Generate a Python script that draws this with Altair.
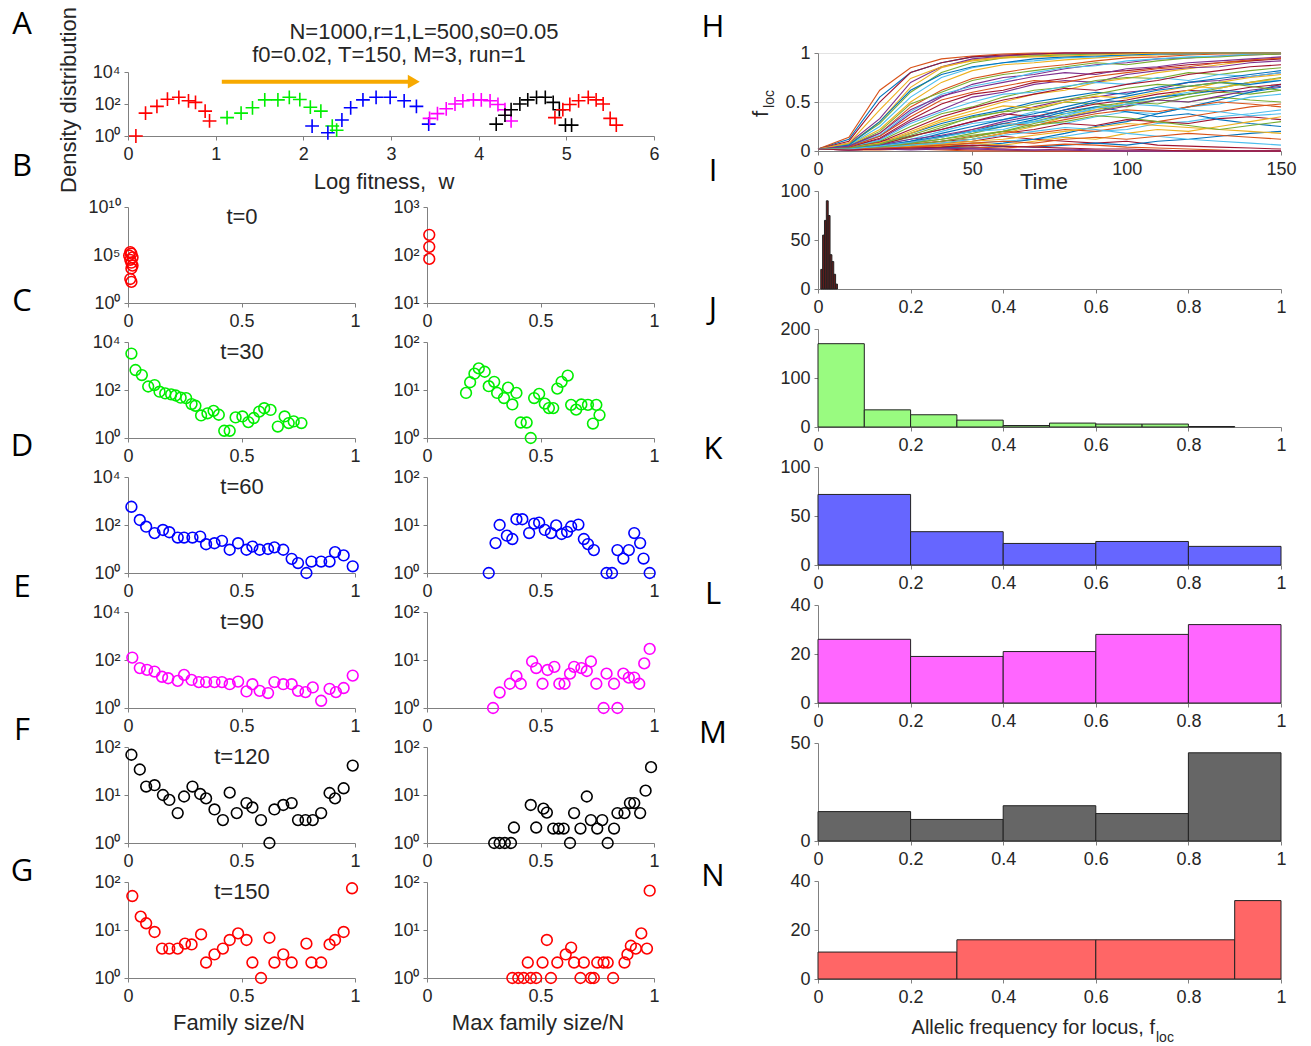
import altair as alt
import pandas as pd

FONT = "Liberation Sans"
LFONT = "Open Sans"
AXC = "#808080"
TXT = "#262626"
SUP = str.maketrans("0123456789", "⁰¹²³⁴⁵⁶⁷⁸⁹")

# ---------------- Panel A: density vs log fitness ----------------
a_w_t0 = [0.09, 0.2, 0.33, 0.45, 0.58, 0.69, 0.77, 0.88, 0.93]
a_d_t0 = [1, 27, 71, 200, 263, 158, 126, 36, 8.7]
a_w_t30 = [1.13, 1.29, 1.42, 1.56, 1.71, 1.84, 1.96, 2.08, 2.2, 2.33, 2.38]
a_d_t30 = [14, 27, 58, 182, 182, 263, 190, 63, 36, 4.2, 2.3]
a_w_t60 = [2.1, 2.28, 2.44, 2.54, 2.68, 2.83, 2.99, 3.15, 3.29, 3.43]
a_d_t60 = [4.2, 1.6, 10, 58, 182, 263, 263, 158, 71, 5.5]
a_w_t90 = [3.44, 3.53, 3.63, 3.73, 3.82, 3.94, 4.03, 4.13, 4.22, 4.3, 4.37]
a_d_t90 = [12.6, 25, 50, 100, 158, 182, 182, 158, 93, 44, 8.7]
a_w_t120 = [4.2, 4.3, 4.37, 4.47, 4.56, 4.66, 4.76, 4.85, 4.92, 4.99, 5.06]
a_d_t120 = [5.5, 20, 44, 100, 182, 263, 263, 126, 44, 4.8, 4.8]
a_w_t150 = [4.87, 4.96, 5.04, 5.14, 5.25, 5.34, 5.42, 5.5, 5.57]
a_d_t150 = [14, 44, 93, 158, 263, 182, 100, 12.6, 4.8]
arrow_w = [1.07, 3.2]
arrow_tip_w = [3.26]
arrow_d = [2500]

# ---------------- Panels B-G: family size distributions ----------------
b_fam_x = [0.01, 0.015, 0.005, 0.02, 0.01, 0.015, 0.02, 0.015, 0.01, 0.015]
b_fam_y = [200000, 141000, 89000, 56000, 31600, 15800, 7900, 4000, 316, 158]
b_max_x = [0.01, 0.01, 0.01]
b_max_y = [263, 148, 83]

c_fam_x = [0.015, 0.033, 0.061, 0.089, 0.117, 0.139, 0.164, 0.19, 0.21, 0.232, 0.256, 0.28, 0.297,
           0.322, 0.35, 0.377, 0.4, 0.424, 0.448, 0.474, 0.504, 0.53, 0.554, 0.578, 0.6, 0.628,
           0.66, 0.69, 0.708, 0.73, 0.764]
c_fam_y = [3300, 680, 420, 140, 160, 85, 72, 66, 59, 48, 46, 26, 22, 8.7, 10.7, 13.5, 9.3, 2, 2,
           7.2, 7.9, 4.6, 6.8, 12.6, 17.4, 14.8, 3, 7.9, 4.2, 4.9, 4.2]
c_max_x = [0.172, 0.19, 0.209, 0.228, 0.254, 0.272, 0.296, 0.309, 0.339, 0.357, 0.376, 0.394, 0.413,
           0.439, 0.457, 0.472, 0.494, 0.519, 0.537, 0.556, 0.574, 0.593, 0.62, 0.635, 0.657, 0.68,
           0.709, 0.731, 0.746, 0.76]
c_max_y = [8.7, 14.5, 21.9, 28.2, 24, 12, 14.8, 8.7, 6.8, 11.2, 5, 8.7, 2.1, 2.1, 1, 6.8, 8.3, 5.2,
           4.2, 4.2, 10.7, 14.8, 20, 4.9, 3.9, 5, 4.9, 2, 4.9, 3]

d_fam_x = [0.015, 0.052, 0.08, 0.117, 0.154, 0.182, 0.219, 0.247, 0.284, 0.318, 0.344, 0.381, 0.414,
           0.448, 0.485, 0.522, 0.548, 0.58, 0.617, 0.645, 0.684, 0.721, 0.749, 0.786, 0.808, 0.851,
           0.888, 0.912, 0.95, 0.99]
d_fam_y = [575, 162, 85, 46, 62, 50, 30, 30, 30, 33, 15.8, 17.4, 21.9, 9.3, 17.4, 9.3, 12.6, 9.3, 10,
           11.7, 9.3, 3.9, 2.6, 1, 3, 3, 3, 7.4, 5.4, 1.9]
d_max_x = [0.272, 0.302, 0.32, 0.352, 0.376, 0.394, 0.42, 0.45, 0.472, 0.494, 0.519, 0.546, 0.569,
           0.593, 0.617, 0.635, 0.667, 0.691, 0.709, 0.735, 0.791, 0.815, 0.839, 0.865, 0.889, 0.913,
           0.939, 0.954, 0.981]
d_max_y = [1, 4.2, 10, 6, 5.1, 13.2, 13.2, 6.8, 10.7, 11.2, 7.9, 6.8, 9.8, 6.5, 7.2, 9.3, 10.2, 5.1,
           4, 3, 1, 1, 3, 2, 3, 6.8, 4.2, 2, 1]

e_fam_x = [0.019, 0.052, 0.084, 0.117, 0.15, 0.177, 0.219, 0.247, 0.28, 0.312, 0.344, 0.381, 0.414,
           0.448, 0.485, 0.522, 0.548, 0.58, 0.617, 0.645, 0.684, 0.721, 0.749, 0.782, 0.814, 0.851,
           0.888, 0.916, 0.95, 0.99]
e_fam_y = [126, 46, 39, 33, 20, 17.4, 13.5, 24, 14.8, 12, 12, 12, 12, 9.8, 12.6, 4.9, 9.8, 5.2, 4.2,
           12, 9.8, 9.8, 5.2, 4.6, 7.2, 2, 6.3, 4.6, 6.8, 22.4]
e_max_x = [0.291, 0.32, 0.365, 0.394, 0.413, 0.463, 0.481, 0.509, 0.531, 0.561, 0.583, 0.606, 0.63,
           0.648, 0.68, 0.704, 0.722, 0.746, 0.778, 0.791, 0.824, 0.839, 0.865, 0.889, 0.913, 0.935,
           0.957, 0.981]
e_max_y = [1, 2.1, 3.2, 4.6, 3.2, 9.3, 6.8, 3.2, 6.2, 7.2, 3.2, 3.2, 5.2, 7.2, 6.8, 5.9, 9.3, 3.2, 1,
           5.2, 3.2, 1, 5.2, 4.3, 4.3, 3.2, 8.5, 17]

f_fam_x = [0.015, 0.052, 0.08, 0.117, 0.154, 0.182, 0.219, 0.247, 0.284, 0.318, 0.344, 0.381, 0.418,
           0.448, 0.479, 0.522, 0.548, 0.586, 0.623, 0.645, 0.684, 0.721, 0.749, 0.782, 0.814, 0.851,
           0.888, 0.912, 0.95, 0.99]
f_fam_y = [69, 34, 15, 16, 10, 7.9, 4.2, 9.3, 15, 10.5, 8.5, 5, 3, 11.2, 4.2, 6.8, 5.5, 3, 1, 5, 6.2,
           6.8, 3, 3, 3, 4.2, 11, 8.5, 13.8, 41]
f_max_x = [0.296, 0.32, 0.343, 0.37, 0.383, 0.457, 0.481, 0.513, 0.528, 0.556, 0.58, 0.602, 0.63,
           0.648, 0.676, 0.704, 0.722, 0.75, 0.772, 0.796, 0.824, 0.839, 0.87, 0.894, 0.913, 0.939,
           0.963, 0.987]
f_max_y = [1, 1, 1, 1, 2.1, 6.2, 2.1, 5.2, 4.3, 2, 2, 2, 1, 4.2, 2, 9.3, 3, 2, 3, 1, 2, 4.2, 4.2, 6.8,
           6.8, 4.2, 12.3, 38]

g_fam_x = [0.019, 0.056, 0.08, 0.117, 0.15, 0.182, 0.219, 0.251, 0.28, 0.322, 0.344, 0.381, 0.418,
           0.448, 0.485, 0.522, 0.548, 0.586, 0.623, 0.645, 0.684, 0.721, 0.786, 0.808, 0.851, 0.888,
           0.912, 0.95, 0.987]
g_fam_y = [51, 19, 13.8, 9.1, 4.1, 4.1, 4.1, 5.2, 5, 8.1, 2.1, 3.1, 4.1, 6.2, 8.5, 6.2, 2.1, 1, 6.9,
           2.1, 3.1, 2.1, 5.2, 2.1, 2.1, 5, 6.2, 9.1, 74]
g_max_x = [0.376, 0.402, 0.426, 0.444, 0.457, 0.481, 0.509, 0.528, 0.546, 0.574, 0.611, 0.635, 0.648,
           0.676, 0.691, 0.722, 0.735, 0.75, 0.778, 0.796, 0.82, 0.87, 0.883, 0.898, 0.92, 0.944,
           0.969, 0.981]
g_max_y = [1, 1, 1, 2.1, 1, 1, 2.1, 6.2, 1, 2.1, 3.1, 4.3, 2.1, 1, 2.1, 1, 1, 2.1, 2.1, 2.1, 1, 2.1,
           3.1, 4.7, 4.1, 8.5, 4.1, 66]

# ---------------- Panel H: allele frequency trajectories ----------------
h_time = [0, 10, 20, 30, 40, 50, 60, 70, 80, 90, 100, 110, 120, 130, 140, 150]
h_traj = [
    [0.02, 0.12, 0.55, 0.80, 0.90, 0.96, 0.97, 0.98, 0.99, 0.99, 1, 1, 1, 1, 1, 1],
    [0.02, 0.05, 0.18, 0.45, 0.62, 0.74, 0.80, 0.85, 0.88, 0.92, 0.95, 0.96, 0.98, 0.99, 0.99, 1],
    [0.02, 0.03, 0.08, 0.20, 0.32, 0.41, 0.50, 0.58, 0.62, 0.70, 0.74, 0.80, 0.84, 0.88, 0.92, 0.95],
    [0.02, 0.04, 0.10, 0.15, 0.22, 0.30, 0.36, 0.45, 0.52, 0.55, 0.60, 0.63, 0.70, 0.72, 0.76, 0.80],
    [0.02, 0.02, 0.05, 0.08, 0.12, 0.18, 0.25, 0.30, 0.38, 0.45, 0.50, 0.48, 0.55, 0.60, 0.58, 0.62],
    [0.02, 0.03, 0.04, 0.06, 0.05, 0.08, 0.10, 0.12, 0.15, 0.20, 0.22, 0.28, 0.30, 0.35, 0.38, 0.42],
    [0.02, 0.01, 0.02, 0.03, 0.02, 0.01, 0.01, 0.0, 0, 0, 0, 0, 0, 0, 0, 0],
    [0.02, 0.14, 0.62, 0.85, 0.94, 0.97, 0.99, 1, 1, 1, 1, 1, 1, 1, 1, 1],
    [0.02, 0.06, 0.22, 0.50, 0.70, 0.82, 0.88, 0.90, 0.93, 0.95, 0.97, 0.98, 0.99, 1, 1, 1],
    [0.02, 0.04, 0.12, 0.30, 0.42, 0.55, 0.60, 0.68, 0.72, 0.70, 0.78, 0.82, 0.85, 0.86, 0.90, 0.92],
    [0.02, 0.03, 0.07, 0.14, 0.24, 0.35, 0.40, 0.42, 0.50, 0.48, 0.45, 0.52, 0.50, 0.55, 0.52, 0.50],
    [0.02, 0.02, 0.04, 0.10, 0.14, 0.20, 0.22, 0.30, 0.28, 0.35, 0.40, 0.38, 0.45, 0.48, 0.55, 0.58],
    [0.02, 0.02, 0.03, 0.05, 0.08, 0.10, 0.15, 0.12, 0.10, 0.08, 0.10, 0.06, 0.05, 0.04, 0.03, 0.02],
    [0.02, 0.03, 0.02, 0.04, 0.06, 0.05, 0.08, 0.12, 0.18, 0.25, 0.30, 0.38, 0.45, 0.52, 0.60, 0.68],
    [0.02, 0.07, 0.30, 0.65, 0.85, 0.93, 0.96, 0.98, 0.99, 1, 1, 1, 1, 1, 1, 1],
    [0.02, 0.05, 0.15, 0.38, 0.55, 0.68, 0.75, 0.78, 0.84, 0.88, 0.90, 0.94, 0.95, 0.97, 0.98, 0.99],
    [0.02, 0.04, 0.10, 0.25, 0.38, 0.45, 0.55, 0.62, 0.65, 0.72, 0.75, 0.74, 0.80, 0.78, 0.82, 0.85],
    [0.02, 0.03, 0.06, 0.12, 0.20, 0.28, 0.32, 0.40, 0.38, 0.42, 0.48, 0.55, 0.60, 0.65, 0.70, 0.72],
    [0.02, 0.02, 0.04, 0.06, 0.10, 0.12, 0.18, 0.22, 0.28, 0.26, 0.32, 0.30, 0.28, 0.33, 0.35, 0.32],
    [0.02, 0.02, 0.03, 0.02, 0.04, 0.03, 0.05, 0.04, 0.06, 0.08, 0.06, 0.10, 0.12, 0.15, 0.18, 0.20],
    [0.02, 0.01, 0.01, 0.02, 0.01, 0.0, 0, 0, 0, 0, 0, 0, 0, 0, 0, 0],
    [0.02, 0.08, 0.33, 0.70, 0.86, 0.94, 0.97, 0.99, 1, 1, 1, 1, 1, 1, 1, 1],
    [0.02, 0.05, 0.20, 0.48, 0.60, 0.72, 0.78, 0.82, 0.86, 0.90, 0.88, 0.92, 0.95, 0.96, 0.98, 0.99],
    [0.02, 0.04, 0.11, 0.28, 0.40, 0.50, 0.58, 0.60, 0.66, 0.70, 0.68, 0.75, 0.72, 0.78, 0.76, 0.80],
    [0.02, 0.03, 0.06, 0.15, 0.22, 0.30, 0.38, 0.35, 0.42, 0.48, 0.52, 0.58, 0.62, 0.60, 0.65, 0.68],
    [0.02, 0.02, 0.05, 0.08, 0.15, 0.20, 0.25, 0.32, 0.40, 0.45, 0.40, 0.35, 0.38, 0.32, 0.28, 0.25],
    [0.02, 0.02, 0.03, 0.04, 0.05, 0.04, 0.03, 0.05, 0.07, 0.06, 0.04, 0.03, 0.02, 0.01, 0, 0],
    [0.02, 0.03, 0.05, 0.04, 0.08, 0.12, 0.18, 0.25, 0.35, 0.42, 0.50, 0.55, 0.62, 0.70, 0.75, 0.78],
    [0.02, 0.07, 0.28, 0.60, 0.80, 0.90, 0.95, 0.97, 0.98, 0.99, 1, 1, 1, 1, 1, 1],
    [0.02, 0.05, 0.16, 0.40, 0.58, 0.66, 0.72, 0.80, 0.85, 0.87, 0.92, 0.94, 0.96, 0.97, 0.99, 1],
    [0.02, 0.03, 0.09, 0.22, 0.35, 0.44, 0.52, 0.58, 0.64, 0.62, 0.68, 0.72, 0.78, 0.82, 0.86, 0.88],
    [0.02, 0.03, 0.05, 0.10, 0.18, 0.25, 0.32, 0.38, 0.45, 0.52, 0.50, 0.55, 0.58, 0.62, 0.60, 0.65],
    [0.02, 0.02, 0.04, 0.07, 0.10, 0.15, 0.20, 0.18, 0.22, 0.20, 0.25, 0.30, 0.35, 0.40, 0.45, 0.48],
    [0.02, 0.02, 0.02, 0.03, 0.05, 0.08, 0.06, 0.10, 0.14, 0.12, 0.18, 0.22, 0.20, 0.25, 0.30, 0.35],
    [0.02, 0.01, 0.02, 0.02, 0.03, 0.02, 0.01, 0.01, 0.02, 0.01, 0, 0, 0, 0, 0, 0],
    [0.02, 0.06, 0.25, 0.55, 0.75, 0.85, 0.90, 0.92, 0.95, 0.96, 0.98, 0.99, 1, 1, 1, 1],
    [0.02, 0.04, 0.13, 0.32, 0.48, 0.58, 0.62, 0.70, 0.74, 0.80, 0.82, 0.85, 0.88, 0.90, 0.92, 0.94],
    [0.02, 0.03, 0.07, 0.18, 0.28, 0.36, 0.42, 0.50, 0.55, 0.60, 0.58, 0.65, 0.70, 0.74, 0.78, 0.82],
    [0.02, 0.03, 0.05, 0.09, 0.14, 0.22, 0.28, 0.26, 0.32, 0.38, 0.42, 0.40, 0.45, 0.50, 0.48, 0.45],
    [0.02, 0.02, 0.03, 0.05, 0.07, 0.10, 0.12, 0.16, 0.20, 0.24, 0.28, 0.26, 0.24, 0.22, 0.20, 0.18],
    [0.02, 0.01, 0.02, 0.01, 0.02, 0.03, 0.02, 0.01, 0.01, 0, 0, 0, 0, 0, 0, 0],
    [0.02, 0.02, 0.04, 0.06, 0.10, 0.14, 0.20, 0.28, 0.35, 0.40, 0.48, 0.52, 0.58, 0.64, 0.70, 0.75],
    [0.02, 0.10, 0.50, 0.80, 0.90, 0.96, 0.98, 0.99, 1, 1, 1, 1, 1, 1, 1, 1],
    [0.02, 0.06, 0.30, 0.62, 0.78, 0.86, 0.90, 0.94, 0.96, 0.97, 0.98, 0.99, 0.99, 1, 1, 1],
    [0.02, 0.04, 0.15, 0.35, 0.52, 0.60, 0.66, 0.72, 0.70, 0.76, 0.80, 0.84, 0.86, 0.90, 0.93, 0.95],
    [0.02, 0.03, 0.08, 0.18, 0.30, 0.38, 0.46, 0.44, 0.50, 0.56, 0.54, 0.60, 0.66, 0.64, 0.70, 0.74],
    [0.02, 0.03, 0.06, 0.12, 0.16, 0.22, 0.30, 0.36, 0.34, 0.40, 0.46, 0.52, 0.50, 0.56, 0.62, 0.66],
    [0.02, 0.02, 0.04, 0.08, 0.12, 0.16, 0.20, 0.26, 0.30, 0.36, 0.34, 0.30, 0.26, 0.22, 0.26, 0.30],
    [0.02, 0.02, 0.03, 0.06, 0.08, 0.12, 0.16, 0.20, 0.24, 0.22, 0.18, 0.15, 0.12, 0.10, 0.08, 0.06],
    [0.02, 0.03, 0.05, 0.10, 0.15, 0.20, 0.28, 0.34, 0.42, 0.50, 0.56, 0.62, 0.66, 0.70, 0.68, 0.72],
    [0.02, 0.02, 0.03, 0.04, 0.06, 0.08, 0.10, 0.08, 0.12, 0.14, 0.12, 0.15, 0.18, 0.16, 0.14, 0.12],
    [0.02, 0.08, 0.42, 0.74, 0.86, 0.92, 0.95, 0.96, 0.97, 0.98, 0.99, 1, 1, 1, 1, 1],
    [0.02, 0.05, 0.18, 0.42, 0.56, 0.64, 0.70, 0.76, 0.80, 0.78, 0.84, 0.86, 0.90, 0.92, 0.94, 0.96],
    [0.02, 0.03, 0.07, 0.16, 0.26, 0.34, 0.40, 0.48, 0.52, 0.58, 0.64, 0.68, 0.66, 0.70, 0.66, 0.62],
    [0.02, 0.02, 0.05, 0.09, 0.14, 0.20, 0.26, 0.30, 0.36, 0.44, 0.48, 0.46, 0.42, 0.40, 0.36, 0.38],
    [0.02, 0.01, 0.02, 0.03, 0.04, 0.06, 0.05, 0.04, 0.03, 0.02, 0.02, 0.01, 0, 0, 0, 0],
]
h_colors = ["#0072BD", "#D95319", "#EDB120", "#7E2F8E", "#77AC30", "#4DBEEE", "#A2142F"]

# ---------------- Panels I-N: histograms of allele frequency ----------------
i_lo = [0.006, 0.010, 0.014, 0.018, 0.022, 0.026, 0.030, 0.034, 0.038]
i_hi = [0.010, 0.014, 0.018, 0.022, 0.026, 0.030, 0.034, 0.038, 0.042]
i_n = [20, 55, 70, 90, 75, 35, 28, 15, 5]
j_lo = [0.0, 0.1, 0.2, 0.3, 0.4, 0.5, 0.6, 0.7, 0.8]
j_hi = [0.1, 0.2, 0.3, 0.4, 0.5, 0.6, 0.7, 0.8, 0.9]
j_n = [170, 35, 25, 14, 3, 8, 6, 6, 1]
k_lo = [0.0, 0.2, 0.4, 0.6, 0.8]
k_hi = [0.2, 0.4, 0.6, 0.8, 1.0]
k_n = [72, 34, 22, 24, 19]
l_n = [26, 19, 21, 28, 32]
m_n = [15, 11, 18, 14, 45]
n_lo = [0.0, 0.3, 0.6, 0.9]
n_hi = [0.3, 0.6, 0.9, 1.0]
n_n = [11, 16, 16, 32]

# ---------------- layout sizes ----------------
A_W, A_H = 526, 64
S_W, S_H = 227, 96
R_W, R_H = 463, 98


def log_axis(exps):
    vals = [10 ** e for e in exps]
    expr = ""
    for e in exps:
        expr += f"datum.value == {10 ** e} ? '10{str(e).translate(SUP)}' : "
    expr += "''"
    return vals, expr


def label(text, x, y, size=22, font=FONT, align="center", angle=0, color=TXT):
    return alt.Chart(pd.DataFrame({"t": [text]})).mark_text(
        align=align, baseline="middle", font=font, fontSize=size, color=color, angle=angle
    ).encode(text="t:N", x=alt.value(x), y=alt.value(y))


def letter(text, x, y):
    return label(text, x, y, size=31, font=LFONT, color="black")


def scatter(xs, ys, color, exps, extra):
    vals, expr = log_axis(exps)
    df = pd.DataFrame({"x": xs, "y": ys})
    pts = alt.Chart(df).mark_point(
        shape="circle", filled=False, color=color, size=115, strokeWidth=1.6, opacity=1
    ).encode(
        x=alt.X("x:Q", scale=alt.Scale(domain=[0, 1], nice=False, zero=False),
                axis=alt.Axis(values=[0, 0.5, 1], format="~g", title=None)),
        y=alt.Y("y:Q", scale=alt.Scale(type="log", domain=[vals[0], vals[-1]], nice=False),
                axis=alt.Axis(values=vals, labelExpr=expr, title=None)),
    )
    return alt.layer(pts, *extra).properties(width=S_W, height=S_H)


def hist(lo, hi, n, color, ymax, yvals, extra):
    df = pd.DataFrame({"a": lo, "b": hi, "c": n})
    bars = alt.Chart(df).mark_bar(color=color, stroke="#222222", strokeWidth=1, opacity=1).encode(
        x=alt.X("a:Q", scale=alt.Scale(domain=[0, 1], nice=False, zero=False),
                axis=alt.Axis(values=[0, 0.2, 0.4, 0.6, 0.8, 1], format="~g", title=None)),
        x2="b:Q",
        y=alt.Y("c:Q", scale=alt.Scale(domain=[0, ymax], nice=False),
                axis=alt.Axis(values=yvals, title=None)),
        y2=alt.datum(0),
    )
    return alt.layer(bars, *extra).properties(width=R_W, height=R_H)


# ---------------- Panel A ----------------
a_series = [(a_w_t0, a_d_t0, "#FF0000"), (a_w_t30, a_d_t30, "#00EE00"), (a_w_t60, a_d_t60, "#0000FF"),
            (a_w_t90, a_d_t90, "#FF00FF"), (a_w_t120, a_d_t120, "#000000"), (a_w_t150, a_d_t150, "#FF0000")]
a_vals, a_expr = log_axis([0, 2, 4])
a_xs = alt.Scale(domain=[0, 6], nice=False, zero=False)
a_ys = alt.Scale(type="log", domain=[1, 10000], nice=False)
a_layers = []
for w, d, col in a_series:
    a_layers.append(
        alt.Chart(pd.DataFrame({"w": w, "d": d})).mark_point(
            shape="M-1,0H1M0,-1V1", filled=False, color=col, size=190, strokeWidth=1.6, opacity=1
        ).encode(
            x=alt.X("w:Q", scale=a_xs,
                    axis=alt.Axis(values=[0, 1, 2, 3, 4, 5, 6], format="~g", title=None)),
            y=alt.Y("d:Q", scale=a_ys, axis=alt.Axis(values=a_vals, labelExpr=a_expr, title=None)),
        )
    )
arrow_line = alt.Chart(pd.DataFrame({"w": [arrow_w[0]], "w2": [arrow_w[1]], "d": arrow_d})).mark_rule(
    color="#F7A900", strokeWidth=4
).encode(x=alt.X("w:Q", scale=a_xs), x2="w2:Q", y=alt.Y("d:Q", scale=a_ys))
arrow_head = alt.Chart(pd.DataFrame({"w": arrow_tip_w, "d": arrow_d})).mark_point(
    shape="triangle-right", filled=True, color="#F7A900", size=190, opacity=1
).encode(x=alt.X("w:Q", scale=a_xs), y=alt.Y("d:Q", scale=a_ys))
pin = alt.Chart(pd.DataFrame({"p": [0]})).mark_rect(opacity=0).encode(
    x=alt.value(-128), x2=alt.value(-124), y=alt.value(-72), y2=alt.value(-68))
panel_a = alt.layer(
    pin, *a_layers, arrow_line, arrow_head,
    label("N=1000,r=1,L=500,s0=0.05", 296, -40),
    label("f0=0.02, T=150, M=3, run=1", 261, -17),
    label("Log fitness,\u00a0 w", 256, 110),
    label("Density distribution", -59, 28, angle=270),
    letter("A", -106, -47),
    letter("B", -106, 95),
).properties(width=A_W, height=A_H)

# ---------------- Panels B-G ----------------
rows_spec = [
    (b_fam_x, b_fam_y, b_max_x, b_max_y, "#FF0000", [0, 5, 10], [1, 2, 3], "t=0", None, None),
    (c_fam_x, c_fam_y, c_max_x, c_max_y, "#00EE00", [0, 2, 4], [0, 1, 2], "t=30", "C", -40),
    (d_fam_x, d_fam_y, d_max_x, d_max_y, "#0000FF", [0, 2, 4], [0, 1, 2], "t=60", "D", -30),
    (e_fam_x, e_fam_y, e_max_x, e_max_y, "#FF00FF", [0, 2, 4], [0, 1, 2], "t=90", "E", -24),
    (f_fam_x, f_fam_y, f_max_x, f_max_y, "#000000", [0, 1, 2], [0, 1, 2], "t=120", "F", -16),
    (g_fam_x, g_fam_y, g_max_x, g_max_y, "#FF0000", [0, 1, 2], [0, 1, 2], "t=150", "G", -10),
]
rows = []
for i, (fx, fy, mx, my, col, le, re, title, let, ly) in enumerate(rows_spec):
    lextra = [label(title, 114, 10)]
    rextra = []
    if let:
        lextra.append(letter(let, -106, ly))
    if i == len(rows_spec) - 1:
        lextra.append(label("Family size/N", 111, 141))
        rextra.append(label("Max family size/N", 111, 141))
    left = scatter(fx, fy, col, le, lextra)
    right = scatter(mx, my, col, re, rextra)
    rows.append(alt.hconcat(left, right, spacing=72, bounds="flush"))
rows_block = alt.vconcat(*rows, spacing=135, bounds="flush")

# ---------------- Panel H ----------------
h_recs = []
for k, traj in enumerate(h_traj):
    for t, v in zip(h_time, traj):
        h_recs.append({"t": t, "f": v, "id": k, "c": h_colors[(k + k // 7) % 7]})
h_lines = alt.Chart(pd.DataFrame(h_recs)).mark_line(strokeWidth=1.1, opacity=1).encode(
    x=alt.X("t:Q", scale=alt.Scale(domain=[0, 150], nice=False, zero=False),
            axis=alt.Axis(values=[0, 50, 100, 150], title=None)),
    y=alt.Y("f:Q", scale=alt.Scale(domain=[0, 1], nice=False),
            axis=alt.Axis(values=[0, 0.5, 1], format="~g", title=None, grid=True,
                          gridColor="#E3E3E3", gridWidth=1)),
    color=alt.Color("c:N", scale=None),
    detail="id:N",
)
panel_h = alt.layer(
    h_lines,
    label("Time", 226, 129),
    label("f", -57, 61, angle=270),
    label("loc", -48, 46, size=14, angle=270),
    letter("H", -105, -25),
).properties(width=R_W, height=R_H)

panel_i = hist(i_lo, i_hi, i_n, "#6E1C1C", 100, [0, 50, 100], [letter("I", -105, -19)])
panel_j = hist(j_lo, j_hi, j_n, "#99FB80", 200, [0, 100, 200], [letter("J", -105, -19)])
panel_k = hist(k_lo, k_hi, k_n, "#6666FF", 100, [0, 50, 100], [letter("K", -105, -17)])
panel_l = hist(k_lo, k_hi, l_n, "#FF66FF", 40, [0, 20, 40], [letter("L", -105, -10)])
panel_m = hist(k_lo, k_hi, m_n, "#666666", 50, [0, 50], [letter("M", -105, -9)])
panel_n = hist(n_lo, n_hi, n_n, "#FF6666", 40, [0, 20, 40], [
    letter("N", -105, -4),
    label("Allelic frequency for locus, f", 337, 147, size=20, align="right"),
    label("loc", 338, 157, size=14, align="left"),
])

right_col = alt.vconcat(panel_h, panel_i, panel_j, panel_k, panel_l, panel_m, panel_n,
                        spacing=40, bounds="flush")

left_col = alt.vconcat(alt.vconcat(panel_a, bounds="flush"), rows_block, spacing=135, bounds="flush")
spacer = alt.vconcat(
    alt.Chart(pd.DataFrame({"p": [0]})).mark_point(opacity=0).encode(
        x=alt.value(0), y=alt.value(0)).properties(width=1, height=1),
    bounds="flush")
left_wrap = alt.vconcat(spacer, left_col, spacing=19, bounds="flush")

chart = alt.hconcat(left_wrap, right_col, spacing=690, bounds="flush").properties(
    padding=0, background="white"
).configure_view(stroke=None).configure_axis(
    domainColor=AXC, tickColor=AXC, tickSize=4, domainWidth=1, tickWidth=1,
    labelFont=FONT, labelFontSize=18, labelColor=TXT,
    labelFlush=False, labelOverlap=False, grid=False,
).configure_axisX(labelPadding=5).configure_axisY(labelPadding=4)

chart.save("out.html", embed_options={"renderer": "svg", "actions": False})
